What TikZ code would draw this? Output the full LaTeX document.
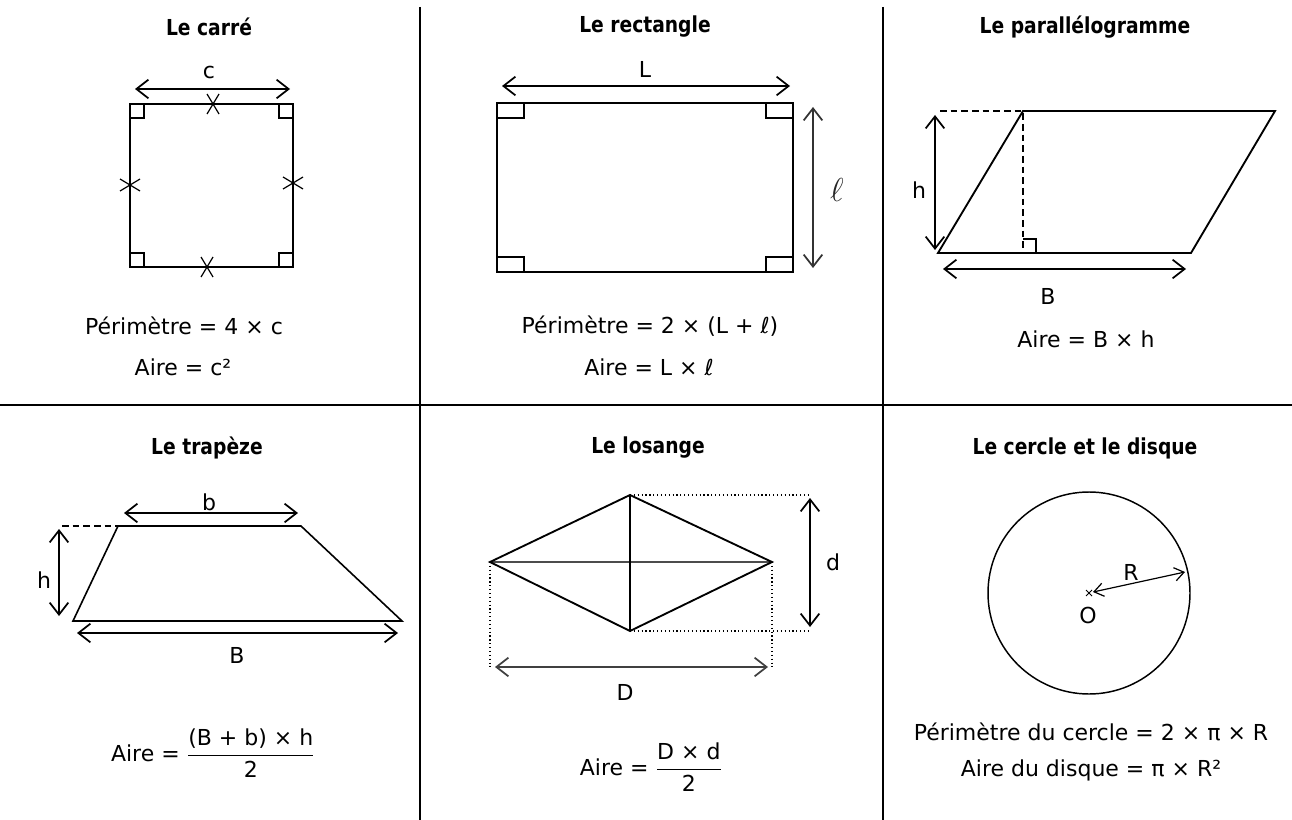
\documentclass[tikz,border=0pt]{standalone}
\usepackage{fontspec}
\setmainfont{DejaVu Sans}
\newfontfamily\titlefont[FakeStretch=0.85]{DejaVu Sans}
\usetikzlibrary{arrows.meta}

\tikzset{
  dimarrow/.style={{Straight Barb[length=9pt,width=14pt]}-{Straight Barb[length=9pt,width=14pt]}, line width=1.3pt},
  title/.style={font=\titlefont\bfseries\fontsize{16.5}{18}\selectfont, inner sep=0pt},
  formula/.style={font=\fontsize{16.5}{18}\selectfont, inner sep=0pt},
  lbl/.style={font=\fontsize{16.5}{18}\selectfont, inner sep=0pt},
  thickside/.style={line width=2.2pt},
  side/.style={line width=1.4pt},
  longdash/.style={dash pattern=on 5pt off 3pt, line width=0.9pt},
}

\begin{document}
\begin{tikzpicture}[x=0.75pt,y=-0.75pt]
    \useasboundingbox (0,0) rectangle (1292,820);

    % Grid
    \draw[line width=0.8pt] (0,405) -- (1292,405);
    \draw[line width=0.8pt] (420,7) -- (420,820);
    \draw[line width=0.8pt] (883,7) -- (883,820);

    % Titles
    \node[title] (tcarre) at (209,27) {Le carré};
    \node[title] (trect) at (645,27) {Le rectangle};
    \node[title] (tpara) at (1085,27) {Le parallélogramme};
    \node[title] (ttrap) at (207,448) {Le trapèze};
    \node[title] (tlos) at (648,448) {Le losange};
    \node[title] (tcerc) at (1085,448) {Le cercle et le disque};

    % Square
    \coordinate (sqA) at (130,104);
    \coordinate (sqB) at (293,104);
    \coordinate (sqC) at (293,267);
    \coordinate (sqD) at (130,267);
    \draw[thickside] (sqA) rectangle (sqC);
    \foreach \c/\sx/\sy in {sqA/1/1, sqB/-1/1, sqC/-1/-1, sqD/1/-1}{
      \draw[line width=0.9pt] (\c) ++(0,\sy*14) -- ++(\sx*14,0) -- ++(0,-\sy*14);
    }
    % equal-length marks
    \foreach \x/\y/\a/\b in {213/104/6/10, 207/267/6/10, 130/185/10/6, 293/183/10/6}{
      \draw[line width=0.9pt] (\x-\a,\y-\b) -- (\x+\a,\y+\b) (\x-\a,\y+\b) -- (\x+\a,\y-\b);
    }
    \coordinate (cL) at (135,89);
    \coordinate (cR) at (290,89);
    \draw[dimarrow] (cL) -- (cR);
    \node[lbl] (lc) at (209,72) {c};
    \node[formula] (pcarre) at (184,326) {Périmètre = 4 × c};
    \node[formula] (acarre) at (183,367) {Aire = c²};

    % Rectangle
    \coordinate (reA) at (497,103);
    \coordinate (reB) at (793,103);
    \coordinate (reC) at (793,272);
    \coordinate (reD) at (497,272);
    \draw[thickside] (reA) rectangle (reC);
    \foreach \c/\sx/\sy in {reA/1/1, reB/-1/1, reC/-1/-1, reD/1/-1}{
      \draw[line width=0.9pt] (\c) ++(0,\sy*15) -- ++(\sx*27,0) -- ++(0,-\sy*15);
    }
    \coordinate (LL) at (502,86);
    \coordinate (LR) at (790,86);
    \draw[dimarrow] (LL) -- (LR);
    \node[lbl] (lL) at (645,69) {L};
    \coordinate (lT) at (813,107);
    \coordinate (lB) at (813,268);
    \draw[dimarrow,black!80] (lT) -- (lB);
    \node[font=\fontsize{36}{36}\selectfont,black!85] (lell) at (837,190) {$\ell$};
    \node[formula] (prect) at (650,326) {Périmètre = 2 × (L + ℓ)};
    \node[formula] (arect) at (649,367) {Aire = L × ℓ};

    % Parallelogram
    \coordinate (paA) at (938,253);
    \coordinate (paB) at (1023,111);
    \coordinate (paC) at (1275,111);
    \coordinate (paD) at (1191,253);
    \coordinate (paH) at (1023,253);
    \draw[side] (paA) -- (paB) -- (paC) -- (paD) -- cycle;
    \draw[longdash] (940,111) -- (paB) -- (paH);
    \draw[line width=0.9pt] (1023,239) -- (1036,239) -- (1036,253);
    \coordinate (phT) at (935,115);
    \coordinate (phB) at (935,250);
    \draw[dimarrow] (phT) -- (phB);
    \node[lbl] (lph) at (919,190) {h};
    \coordinate (pbL) at (943,269);
    \coordinate (pbR) at (1186,269);
    \draw[dimarrow] (pbL) -- (pbR);
    \node[lbl] (lpB) at (1048,296) {B};
    \node[formula] (apara) at (1086,339) {Aire = B × h};

    % Trapezoid
    \coordinate (trA) at (73,621);
    \coordinate (trB) at (118,526);
    \coordinate (trC) at (301,526);
    \coordinate (trD) at (402,621);
    \draw[line width=1.2pt] (trA) -- (trB) -- (trC) -- (trD) -- cycle;
    \draw[longdash] (62,526) -- (trB);
    \coordinate (tbL) at (124,513);
    \coordinate (tbR) at (298,513);
    \draw[dimarrow] (tbL) -- (tbR);
    \node[lbl] (ltb) at (209,502) {b};
    \coordinate (thT) at (59,529);
    \coordinate (thB) at (59,616);
    \draw[dimarrow] (thT) -- (thB);
    \node[lbl] (lth) at (44,580) {h};
    \coordinate (tBL) at (77,633);
    \coordinate (tBR) at (398,633);
    \draw[dimarrow] (tBL) -- (tBR);
    \node[lbl] (ltB) at (237,655) {B};
    \node[formula] (atrap) at (213,753)
      {Aire = $\displaystyle\frac{\mbox{(B + b) × h}}{\mbox{2}}$};

    % Rhombus
    \coordinate (loL) at (490,562);
    \coordinate (loR) at (772,562);
    \coordinate (loT) at (630,495);
    \coordinate (loB) at (630,631);
    \draw[dotted,line width=0.9pt] (loT) -- (810,495);
    \draw[dotted,line width=0.9pt] (loB) -- (810,631);
    \draw[dotted,line width=0.9pt] (loL) -- (490,667);
    \draw[dotted,line width=0.9pt] (loR) -- (772,667);
    \draw[line width=2.2pt,black!70] (loL) -- (loR);
    \draw[line width=0.9pt] (loT) -- (loB);
    \draw[side] (loL) -- (loT) -- (loR) -- (loB) -- cycle;
    \coordinate (ldT) at (810,498);
    \coordinate (ldB) at (810,627);
    \draw[dimarrow] (ldT) -- (ldB);
    \node[lbl] (lld) at (833,562) {d};
    \coordinate (lDL) at (495,667);
    \coordinate (lDR) at (768,667);
    \draw[dimarrow,black!75] (lDL) -- (lDR);
    \node[lbl] (llD) at (625,692) {D};
    \node[formula] (alos) at (651,767)
      {Aire = $\displaystyle\frac{\mbox{D × d}}{\mbox{2}}$};

    % Circle
    \coordinate (O) at (1089,593);
    \draw[line width=1.1pt] (O) circle (101);
    \draw[line width=0.6pt] (1086,590) -- (1092,596) (1086,596) -- (1092,590);
    \coordinate (Rend) at (1185,572);
    \draw[{Straight Barb[length=7pt,width=10pt]}-{Straight Barb[length=7pt,width=10pt]},line width=0.9pt]
      (1093,592) -- (Rend);
    \node[lbl] (lR) at (1131,572) {R};
    \node[lbl] (lO) at (1088,615) {O};
    \node[formula] (pcerc) at (1091,732) {Périmètre du cercle = 2 × π × R};
    \node[formula] (adisq) at (1091,770) {Aire du disque = π × R²};
  \end{tikzpicture}
\end{document}
